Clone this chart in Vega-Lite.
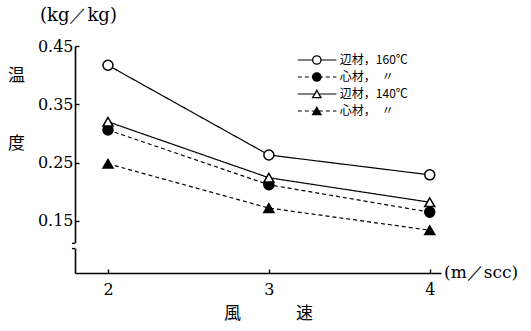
{
  "$schema": "https://vega.github.io/schema/vega-lite/v6.json",
  "width": 366,
  "height": 227,
  "autosize": {"type": "none"},
  "padding": {"left": 75, "top": 46, "right": 90, "bottom": 58},
  "background": "white",
  "config": {
    "view": {"stroke": null},
    "font": "DejaVu Serif",
    "axis": {
      "domainColor": "black",
      "tickColor": "black",
      "labelColor": "black",
      "titleColor": "black",
      "grid": false,
      "domainWidth": 1.6,
      "tickWidth": 1.4,
      "labelFont": "DejaVu Serif",
      "labelFontSize": 16,
      "labelOverlap": false,
      "titleFont": "Noto Sans CJK JP",
      "titleFontSize": 17,
      "titleFontWeight": "normal"
    }
  },
  "title": {
    "text": "(kg／kg)",
    "anchor": "start",
    "frame": "group",
    "dx": -35,
    "offset": 13,
    "fontSize": 18,
    "fontWeight": "normal",
    "font": "DejaVu Serif",
    "color": "black"
  },
  "data": {
    "values": [
      {"series": "辺材，160℃", "speed": 2, "value": 0.417},
      {"series": "辺材，160℃", "speed": 3, "value": 0.263},
      {"series": "辺材，160℃", "speed": 4, "value": 0.229},
      {"series": "心材，160℃", "speed": 2, "value": 0.306},
      {"series": "心材，160℃", "speed": 3, "value": 0.212},
      {"series": "心材，160℃", "speed": 4, "value": 0.165},
      {"series": "辺材，140℃", "speed": 2, "value": 0.320},
      {"series": "辺材，140℃", "speed": 3, "value": 0.224},
      {"series": "辺材，140℃", "speed": 4, "value": 0.182},
      {"series": "心材，140℃", "speed": 2, "value": 0.248},
      {"series": "心材，140℃", "speed": 3, "value": 0.172},
      {"series": "心材，140℃", "speed": 4, "value": 0.134}
    ]
  },
  "layer": [
    {
      "layer": [
        {
          "mark": {"type": "line", "color": "black", "strokeWidth": 1.2},
          "encoding": {
            "x": {
              "field": "speed",
              "type": "quantitative",
              "scale": {"domain": [1.795, 4.07], "nice": false, "zero": false},
              "axis": {"values": [2, 3, 4], "format": "d", "tickSize": -4, "labelPadding": 12, "title": "風　　　 速", "titleX": 193, "titleY": 40, "titleAlign": "center", "titleBaseline": "middle"}
            },
            "y": {
              "field": "value",
              "type": "quantitative",
              "scale": {"domain": [0.0606, 0.45], "nice": false, "zero": false},
              "axis": {"values": [0.15, 0.2, 0.25, 0.3, 0.35, 0.4, 0.45], "format": ".2f", "labelOverlap": false, "tickSize": -4, "labelPadding": 6, "title": ["温", "度"], "titleAngle": 0, "titleX": -59, "titleY": 21, "titleAlign": "center", "titleBaseline": "top", "titleLineHeight": 68}
            },
            "strokeDash": {
              "field": "series",
              "type": "nominal",
              "scale": {
                "domain": ["辺材，160℃", "心材，160℃", "辺材，140℃", "心材，140℃"],
                "range": [[1, 0], [4, 3], [1, 0], [4, 3]]
              },
              "legend": null
            }
          }
        },
        {
          "mark": {"type": "point", "filled": true, "stroke": "black", "strokeWidth": 1.5, "size": 100, "opacity": 1},
          "encoding": {
            "x": {
              "field": "speed",
              "type": "quantitative",
              "axis": {"values": [2, 3, 4], "format": "d", "tickSize": -4, "labelPadding": 12, "title": "風　　　 速", "titleX": 193, "titleY": 40, "titleAlign": "center", "titleBaseline": "middle"}
            },
            "y": {
              "field": "value",
              "type": "quantitative",
              "axis": {"values": [0.15, 0.2, 0.25, 0.3, 0.35, 0.4, 0.45], "format": ".2f", "labelOverlap": false, "tickSize": -4, "labelPadding": 6, "title": ["温", "度"], "titleAngle": 0, "titleX": -59, "titleY": 21, "titleAlign": "center", "titleBaseline": "top", "titleLineHeight": 68}
            },
            "shape": {
              "field": "series",
              "type": "nominal",
              "scale": {
                "domain": ["辺材，160℃", "心材，160℃", "辺材，140℃", "心材，140℃"],
                "range": ["circle", "circle", "triangle-up", "triangle-up"]
              },
              "legend": null
            },
            "fill": {
              "field": "series",
              "type": "nominal",
              "scale": {
                "domain": ["辺材，160℃", "心材，160℃", "辺材，140℃", "心材，140℃"],
                "range": ["white", "black", "white", "black"]
              },
              "legend": null
            }
          }
        },
        {
          "data": {"values": [{"t": "(m／scc)"}]},
          "mark": {"type": "text", "align": "left", "baseline": "middle", "dx": 3, "fontSize": 17, "font": "DejaVu Serif", "color": "black", "clip": false},
          "encoding": {
            "x": {"datum": 4.07, "type": "quantitative"},
            "y": {"datum": 0.0606, "type": "quantitative"},
            "text": {"field": "t", "type": "nominal"}
          }
        },
        {
          "data": {"values": [{"a": 1}]},
          "mark": {"type": "rule", "color": "white", "strokeWidth": 5},
          "encoding": {
            "x": {"datum": 1.795, "type": "quantitative"},
            "y": {"datum": 0.1025, "type": "quantitative"},
            "y2": {"datum": 0.1115}
          }
        },
        {
          "data": {"values": [{"a": 1}]},
          "mark": {"type": "rule", "color": "black", "strokeWidth": 1.4},
          "encoding": {
            "x": {"datum": 1.776, "type": "quantitative"},
            "x2": {"datum": 1.795},
            "y": {"datum": 0.1115, "type": "quantitative"}
          }
        },
        {
          "data": {"values": [{"a": 1}]},
          "mark": {"type": "rule", "color": "black", "strokeWidth": 1.4},
          "encoding": {
            "x": {"datum": 1.776, "type": "quantitative"},
            "x2": {"datum": 1.795},
            "y": {"datum": 0.1025, "type": "quantitative"}
          }
        }
      ]
    },
    {
      "data": {
        "values": [
          {"series": "辺材，160℃", "label": "辺材，160℃"},
          {"series": "心材，160℃", "label": "心材，　〃"},
          {"series": "辺材，140℃", "label": "辺材，140℃"},
          {"series": "心材，140℃", "label": "心材，　〃"}
        ]
      },
      "layer": [
        {
          "mark": {"type": "rule", "color": "black", "strokeWidth": 1.2},
          "encoding": {
            "x": {"datum": 3.18, "type": "quantitative"},
            "x2": {"datum": 3.42},
            "y": {
              "field": "series",
              "type": "nominal",
              "sort": null,
              "scale": {"domain": ["辺材，160℃", "心材，160℃", "辺材，140℃", "心材，140℃"], "range": [5.5, 73.5]},
              "axis": null
            },
            "strokeDash": {
              "field": "series",
              "type": "nominal",
              "scale": {
                "domain": ["辺材，160℃", "心材，160℃", "辺材，140℃", "心材，140℃"],
                "range": [[1, 0], [3, 2], [1, 0], [3, 2]]
              },
              "legend": null
            }
          }
        },
        {
          "mark": {"type": "point", "filled": true, "stroke": "black", "strokeWidth": 1.3, "size": 70, "opacity": 1},
          "encoding": {
            "x": {"datum": 3.298, "type": "quantitative"},
            "y": {"field": "series", "type": "nominal", "sort": null, "axis": null},
            "shape": {"field": "series", "type": "nominal", "legend": null},
            "fill": {"field": "series", "type": "nominal", "legend": null}
          }
        },
        {
          "mark": {"type": "text", "align": "left", "baseline": "middle", "dx": 0, "font": "Noto Sans CJK JP", "fontSize": 12, "color": "black"},
          "encoding": {
            "x": {"datum": 3.441, "type": "quantitative"},
            "y": {"field": "series", "type": "nominal", "sort": null, "axis": null},
            "text": {"field": "label", "type": "nominal"}
          }
        }
      ]
    }
  ],
  "resolve": {"scale": {"y": "independent"}, "axis": {"y": "independent"}}
}
